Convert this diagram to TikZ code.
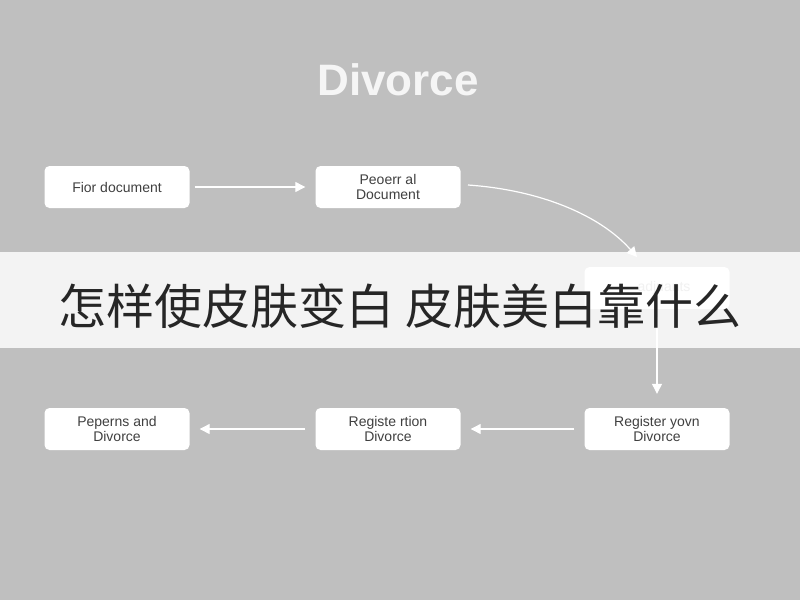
\documentclass[tikz,border=0pt]{standalone}
\usepackage{fontspec}
\setmainfont{Liberation Sans}
\newfontfamily\cjk{Noto Sans CJK SC}
\usetikzlibrary{arrows.meta}
\begin{document}
\begin{tikzpicture}[x=1pt,y=-1pt,
  box/.style={draw=none,fill=white,rounded corners=5pt,minimum width=145pt,minimum height=42pt,align=center,font=\fontsize{14}{15}\selectfont,text=black!75},
  arr/.style={draw=white,line width=1.2pt,-{Triangle[length=10pt,width=10pt]}}]
\fill[gray!50] (0,0) rectangle (800,600);
\useasboundingbox (0,0) rectangle (800,600);
\node[font=\bfseries\fontsize{44}{46}\selectfont,text=white!92!gray] (t) at (398,80) {Divorce};
\node[box] (n1) at (117,187) {Fior document};
\node[box] (n2) at (388,187) {Peoerr al\\Document};
\node[box] (n3) at (657,288) {\textcolor{gray!60}{\quad adjuants}};
\node[box] (n4) at (657,429) {Register yovn\\Divorce};
\node[box] (n5) at (388,429) {Registe rtion\\Divorce};
\node[box] (n6) at (117,429) {Peperns and\\Divorce};
\coordinate (c0) at (468,185);
\coordinate (c1) at (637,257);
\draw[arr,shorten >=10pt,shorten <=5pt] (n1) -- (n2);
\draw[arr] (c0) .. controls (540,190) and (600,215) .. (c1);
\draw[arr,shorten >=14pt,shorten <=8pt] (n3) -- (n4);
\draw[arr,shorten >=10pt,shorten <=10pt] (n4) -- (n5);
\draw[arr,shorten >=10pt,shorten <=10pt] (n5) -- (n6);
\fill[white,opacity=0.82] (0,252) rectangle (800,348);
\node[font=\cjk\fontsize{48}{52}\selectfont,text=black!85] (b) at (400,306) {怎样使皮肤变白 皮肤美白靠什么};
\end{tikzpicture}
\end{document}
